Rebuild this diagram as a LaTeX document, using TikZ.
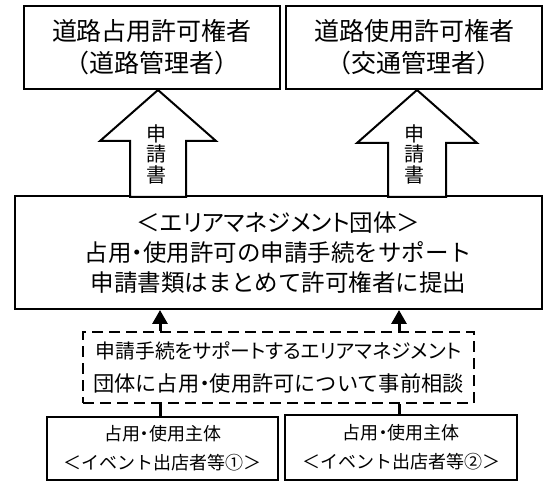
\documentclass[tikz,border=0pt]{standalone}
\usepackage{fontspec}
\setmainfont{Noto Sans CJK JP}
\newfontfamily\propjp{Noto Sans CJK JP}[RawFeature={+palt}]
\newcommand\myndot{{\propjp ・}}
\usetikzlibrary{arrows.meta,calc}
\tikzset{
  box/.style={draw=black, line width=2pt, fill=white, rectangle, inner sep=0pt, align=center},
  dashbox/.style={draw=black, line width=2pt, dash pattern=on 11pt off 6pt, rectangle, inner sep=0pt, align=center},
  blockarrow/.style={draw=black, line width=2pt, fill=white, line join=miter},
  conn/.style={line width=3pt, -{Triangle[width=15pt,length=14pt]}},
  link/.style={line width=3pt},
  toptext/.style={font=\fontsize{25}{32}\selectfont},
  maintext/.style={font=\fontsize{23.5}{30}\selectfont},
  dashtext/.style={font=\fontsize{21.2}{33}\selectfont},
  bottext/.style={font=\fontsize{18}{29}\selectfont},
  arrtext/.style={font=\fontsize{20}{20.5}\selectfont, align=center, inner sep=0pt}
}
\begin{document}
\begin{tikzpicture}[x=1pt,y=-1pt]
\useasboundingbox[fill=white] (0,0) rectangle (544,481);

% top boxes
\node[box, toptext, minimum width=256pt, minimum height=83pt] (top1) at (152,47.5)
  {道路占用許可権者\\（道路管理者）};
\node[box, toptext, minimum width=256pt, minimum height=83pt] (top2) at (414,47.5)
  {道路使用許可権者\\（交通管理者）};

% main box
\node[box, maintext, minimum width=527pt, minimum height=113pt] (main) at (278.5,252.5)
  {{\propjp ＜エリアマネジメント団体＞}\\占用\myndot 使用許可の申請手続をサポート\\申請書類はまとめて許可権者に提出};

% dashed box
\node[dashbox, dashtext, minimum width=391pt, minimum height=71pt] (dash) at (278.5,367.5)
  {{\propjp\fontsize{19.8}{33}\selectfont 申請手続をサポートするエリアマネジメント}\\団体に占用\myndot 使用許可について事前相談};

% bottom boxes
\node[box, bottext, minimum width=231pt, minimum height=63pt] (b1) at (162.5,448.5)
  {占用\myndot 使用主体\\＜イベント出店者等①＞};
\node[box, bottext, minimum width=232pt, minimum height=65pt] (b2) at (401,447.5)
  {占用\myndot 使用主体\\＜イベント出店者等②＞};

% block arrows
\coordinate (a1tip) at (top1.south -| 158,0);
\coordinate (a2tip) at (top2.south -| 417,0);
\draw[blockarrow] (a1tip) -- ++(58,51) -- ++(-30,0) -- ++(0,56) -- ++(-56,0) -- ++(0,-56) -- ++(-30,0) -- cycle;
\draw[blockarrow] (a2tip) -- ++(60,53) -- ++(-31,0) -- ++(0,54) -- ++(-58,0) -- ++(0,-54) -- ++(-31,0) -- cycle;
\node[arrtext] (l1) at (156,154) {申\\請\\書};
\node[arrtext] (l2) at (414,154) {申\\請\\書};

% connectors
\coordinate (c1) at (160,0);
\coordinate (c2) at (399,0);
\draw[conn] (dash.north -| c1) -- (main.south -| c1);
\draw[conn] (dash.north -| c2) -- (main.south -| c2);
\draw[link] (b1.north -| c1) -- (dash.south -| c1);
\draw[link] (b2.north -| c2) -- (dash.south -| c2);
\end{tikzpicture}
\end{document}
